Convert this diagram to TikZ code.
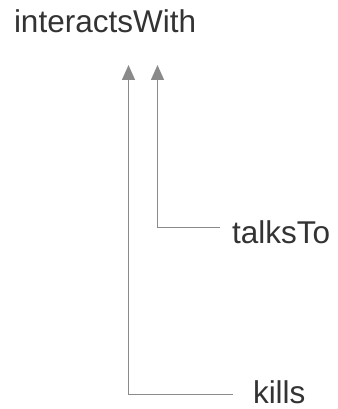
\documentclass[tikz,border=0pt]{standalone}
\usepackage{fontspec}
\setmainfont{Liberation Sans}
\usetikzlibrary{arrows.meta}
\definecolor{labeltext}{HTML}{333333}
\definecolor{linkgray}{HTML}{8A8A8A}
\begin{document}
\begin{tikzpicture}[x=1pt,y=-1pt,
  lbl/.style={inner sep=0pt,outer sep=0pt,text=labeltext,
    font=\fontsize{31.5}{36}\selectfont},
  link/.style={draw=linkgray,line width=1.3pt,
    -{Triangle[length=15pt,width=13pt]}}]
\useasboundingbox (0,0) rectangle (337,409);
% property names
\node[lbl,anchor=base west] (top) at (14,33) {interactsWith};
\node[lbl,anchor=base west] (talk) at (232,243) {talksTo};
\node[lbl,anchor=base west] (kill) at (253,403.5) {kills};
% arrow ends below the parent property
\coordinate (tipK) at (128.5,65);
\coordinate (tipT) at (157.5,65);
% line ends just left of each sub-property
\coordinate (elbowT) at ([xshift=-12pt,yshift=4pt]talk.west);
\coordinate (elbowK) at ([xshift=-20pt,yshift=-2pt]kill.west);
% sub-property links
\draw[link] (elbowT) -| (tipT);
\draw[link] (elbowK) -| (tipK);
\end{tikzpicture}
\end{document}
